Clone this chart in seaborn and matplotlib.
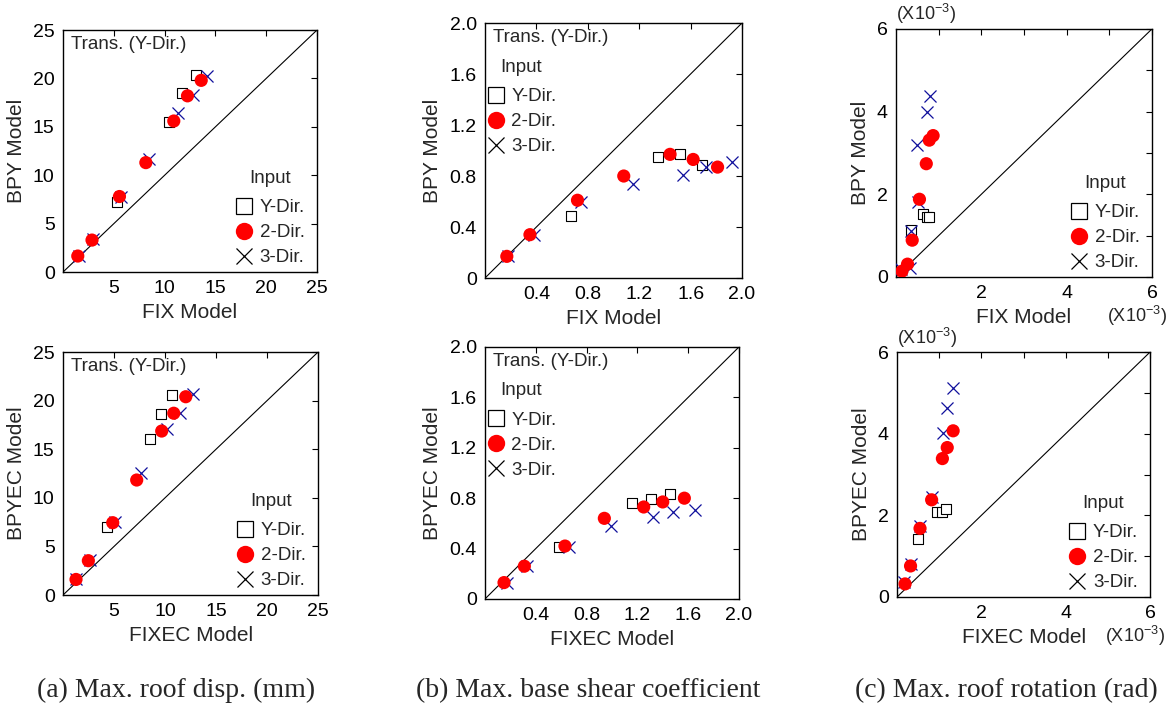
import matplotlib
matplotlib.use("Agg")
import matplotlib.pyplot as plt
from matplotlib.lines import Line2D
import seaborn as sns


# ============================
# Data
# ============================

# (a) max. roof disp. (mm), BPY vs FIX
a1_sq_x = [5.3, 10.4, 11.7, 13.1]
a1_sq_y = [7.2, 15.5, 18.5, 20.4]
a1_ci_x = [1.45, 2.85, 5.55, 8.15, 10.9, 12.25, 13.6]
a1_ci_y = [1.65, 3.3, 7.8, 11.3, 15.6, 18.2, 19.8]
a1_cr_x = [1.6, 2.9, 5.7, 8.5, 11.35, 12.8, 14.2]
a1_cr_y = [1.7, 3.4, 7.8, 11.7, 16.45, 18.3, 20.25]

# (a) BPYEC vs FIXEC
a2_sq_x = [4.3, 8.55, 9.6, 10.65]
a2_sq_y = [7.0, 16.1, 18.6, 20.6]
a2_ci_x = [1.27, 2.48, 4.87, 7.22, 9.67, 10.85, 12.03]
a2_ci_y = [1.6, 3.53, 7.44, 11.83, 16.87, 18.7, 20.4]
a2_cr_x = [1.3, 2.6, 5.1, 7.65, 10.17, 11.47, 12.7]
a2_cr_y = [1.65, 3.6, 7.55, 12.6, 17.05, 18.76, 20.68]

# (b) max. base shear coefficient, BPY vs FIX
b1_sq_x = [0.67, 1.35, 1.52, 1.69]
b1_sq_y = [0.49, 0.95, 0.97, 0.89]
b1_ci_x = [0.17, 0.35, 0.72, 1.08, 1.44, 1.62, 1.81]
b1_ci_y = [0.17, 0.34, 0.61, 0.80, 0.97, 0.93, 0.87]
b1_cr_x = [0.18, 0.38, 0.75, 1.15, 1.54, 1.72, 1.92]
b1_cr_y = [0.17, 0.34, 0.60, 0.74, 0.81, 0.87, 0.91]

# (b) BPYEC vs FIXEC
b2_sq_x = [0.58, 1.16, 1.31, 1.46]
b2_sq_y = [0.41, 0.76, 0.79, 0.83]
b2_ci_x = [0.15, 0.31, 0.63, 0.94, 1.25, 1.40, 1.57]
b2_ci_y = [0.13, 0.26, 0.42, 0.64, 0.73, 0.77, 0.80]
b2_cr_x = [0.17, 0.33, 0.66, 0.99, 1.32, 1.48, 1.65]
b2_cr_y = [0.13, 0.26, 0.41, 0.58, 0.65, 0.69, 0.71]

# (c) max. roof rotation (x10^-3 rad), BPY vs FIX
c1_sq_x = [0.35, 0.64, 0.73, 0.78]
c1_sq_y = [1.14, 1.52, 1.46, 1.46]
c1_ci_x = [0.14, 0.27, 0.38, 0.55, 0.71, 0.78, 0.87]
c1_ci_y = [0.14, 0.31, 0.89, 1.88, 2.74, 3.31, 3.42]
c1_cr_x = [0.12, 0.33, 0.36, 0.52, 0.50, 0.73, 0.80]
c1_cr_y = [0.19, 0.21, 1.12, 1.81, 3.19, 3.98, 4.38]

# (c) BPYEC vs FIXEC
c2_sq_x = [0.49, 0.94, 1.06, 1.16]
c2_sq_y = [1.42, 2.08, 2.08, 2.16]
c2_ci_x = [0.19, 0.32, 0.545, 0.82, 1.075, 1.19, 1.33]
c2_ci_y = [0.32, 0.76, 1.68, 2.38, 3.39, 3.66, 4.07]
c2_cr_x = [0.17, 0.32, 0.545, 0.82, 1.08, 1.18, 1.33]
c2_cr_y = [0.37, 0.82, 1.74, 2.46, 4.02, 4.64, 5.11]

legenda = ['Y-Dir.', '2-Dir.', '3-Dir.']
legenda_titulo = 'Input'
nota = 'Trans. (Y-Dir.)'
legendas = ['(a) Max. roof disp. (mm)', '(b) Max. base shear coefficient',
            '(c) Max. roof rotation (rad)']

VERMELHO = '#ff0000'
AZUL = '#10109c'

# ============================
# Style
# ============================
sns.set_style('white')
plt.rcParams['font.family'] = ['Liberation Sans', 'DejaVu Sans']
plt.rcParams['mathtext.default'] = 'regular'
plt.rcParams['axes.linewidth'] = 1.0
plt.rcParams['axes.edgecolor'] = 'black'


def painel(ax, sq_x, sq_y, ci_x, ci_y, cr_x, cr_y, lim):
    ax.plot([0, lim], [0, lim], color='black', lw=0.8, zorder=2)
    sns.scatterplot(x=sq_x, y=sq_y, ax=ax, marker='s', s=50,
                    facecolor='white', edgecolor='black', linewidth=0.8,
                    zorder=3)
    sns.scatterplot(x=cr_x, y=cr_y, ax=ax, marker='x', s=75, color=AZUL,
                    linewidth=0.9, zorder=4)
    sns.scatterplot(x=ci_x, y=ci_y, ax=ax, marker='o', s=90,
                    color=VERMELHO, edgecolor='none', zorder=5)
    ax.set_xlim(0, lim)
    ax.set_ylim(0, lim)
    ax.tick_params(direction='in', top=True, right=True, length=4,
                   width=0.8, labelsize=14, colors='black', pad=6)
    for s in ax.spines.values():
        s.set_visible(True)
        s.set_color('black')


def legenda_input(ax, **kw):
    handles = [
        Line2D([], [], ls='none', marker='s', ms=11, mfc='white',
               mec='black', mew=0.9),
        Line2D([], [], ls='none', marker='o', ms=12.5, mfc=VERMELHO,
               mec='none'),
        Line2D([], [], ls='none', marker='x', ms=11, mec='black', mew=0.9),
    ]
    leg = ax.legend(handles, legenda, title=legenda_titulo, frameon=False,
                    fontsize=13.5, title_fontsize=13.5, handlelength=1.0,
                    handletextpad=0.35, labelspacing=0.42, borderpad=0.2,
                    **kw)
    leg._legend_box.sep = 9


fig = plt.figure(figsize=(11.72, 7.08), dpi=100)

# posicoes dos eixos (px do original convertidos em fracao)
pos = {
    'a1': [0.0538, 0.6158, 0.2167, 0.3418],
    'b1': [0.4138, 0.6073, 0.2193, 0.3602],
    'c1': [0.7645, 0.6088, 0.2184, 0.3503],
    'a2': [0.0538, 0.1596, 0.2176, 0.3432],
    'b2': [0.4138, 0.1540, 0.2167, 0.3559],
    'c2': [0.7654, 0.1568, 0.2159, 0.3460],
}

# ----- (a) -----
for chave, dados, xl, yl in [
        ('a1', (a1_sq_x, a1_sq_y, a1_ci_x, a1_ci_y, a1_cr_x, a1_cr_y), 'FIX Model', 'BPY Model'),
        ('a2', (a2_sq_x, a2_sq_y, a2_ci_x, a2_ci_y, a2_cr_x, a2_cr_y), 'FIXEC Model', 'BPYEC Model')]:
    ax = fig.add_axes(pos[chave])
    painel(ax, *dados, 25)
    ax.set_xticks([5, 10, 15, 20, 25])
    ax.set_yticks([0, 5, 10, 15, 20, 25])
    ax.set_xlabel(xl, fontsize=15, labelpad=4)
    ax.set_ylabel(yl, fontsize=15, labelpad=5)
    ax.text(0.03, 0.975, nota, transform=ax.transAxes, ha='left', va='top',
            fontsize=13.5)
    legenda_input(ax, loc='lower right', bbox_to_anchor=(0.975, 0.0),
                  borderaxespad=0.1)

# ----- (b) -----
for chave, dados, xl, yl in [
        ('b1', (b1_sq_x, b1_sq_y, b1_ci_x, b1_ci_y, b1_cr_x, b1_cr_y), 'FIX Model', 'BPY Model'),
        ('b2', (b2_sq_x, b2_sq_y, b2_ci_x, b2_ci_y, b2_cr_x, b2_cr_y), 'FIXEC Model', 'BPYEC Model')]:
    ax = fig.add_axes(pos[chave])
    painel(ax, *dados, 2.0)
    ax.set_xticks([0.4, 0.8, 1.2, 1.6, 2.0])
    ax.set_xticklabels(['0.4', '0.8', '1.2', '1.6', '2.0'])
    ax.set_yticks([0, 0.4, 0.8, 1.2, 1.6, 2.0])
    ax.set_yticklabels(['0', '0.4', '0.8', '1.2', '1.6', '2.0'])
    ax.set_xlabel(xl, fontsize=15, labelpad=4)
    ax.set_ylabel(yl, fontsize=15, labelpad=5)
    ax.text(0.03, 0.975, nota, transform=ax.transAxes, ha='left', va='top',
            fontsize=13.5)
    legenda_input(ax, loc='upper left', bbox_to_anchor=(-0.01, 0.875),
                  borderaxespad=0.0)

# ----- (c) -----
for chave, dados, xl, yl in [
        ('c1', (c1_sq_x, c1_sq_y, c1_ci_x, c1_ci_y, c1_cr_x, c1_cr_y), 'FIX Model', 'BPY Model'),
        ('c2', (c2_sq_x, c2_sq_y, c2_ci_x, c2_ci_y, c2_cr_x, c2_cr_y), 'FIXEC Model', 'BPYEC Model')]:
    ax = fig.add_axes(pos[chave])
    painel(ax, *dados, 6)
    ax.set_xticks([1, 2, 3, 4, 5, 6])
    ax.set_xticklabels(['', '2', '', '4', '', '6'])
    ax.set_yticks([0, 1, 2, 3, 4, 5, 6])
    ax.set_yticklabels(['0', '', '2', '', '4', '', '6'])
    ax.set_xlabel(xl, fontsize=15, labelpad=4)
    ax.set_ylabel(yl, fontsize=15, labelpad=5)
    ax.text(0.0, 1.01, '(X10$^{-3}$)', transform=ax.transAxes, ha='left',
            va='bottom', fontsize=13)
    ax.text(1.06, -0.11, '(X10$^{-3}$)', transform=ax.transAxes,
            ha='right', va='top', fontsize=13)
    legenda_input(ax, loc='lower right', bbox_to_anchor=(0.975, 0.0),
                  borderaxespad=0.1)

# legendas de baixo
for xc, txt in zip([0.150, 0.502, 0.859], legendas):
    fig.text(xc, 0.025, txt, ha='center', va='center', fontsize=20,
             family=['Liberation Serif', 'DejaVu Serif'])

fig.savefig('out.png', dpi=100)
